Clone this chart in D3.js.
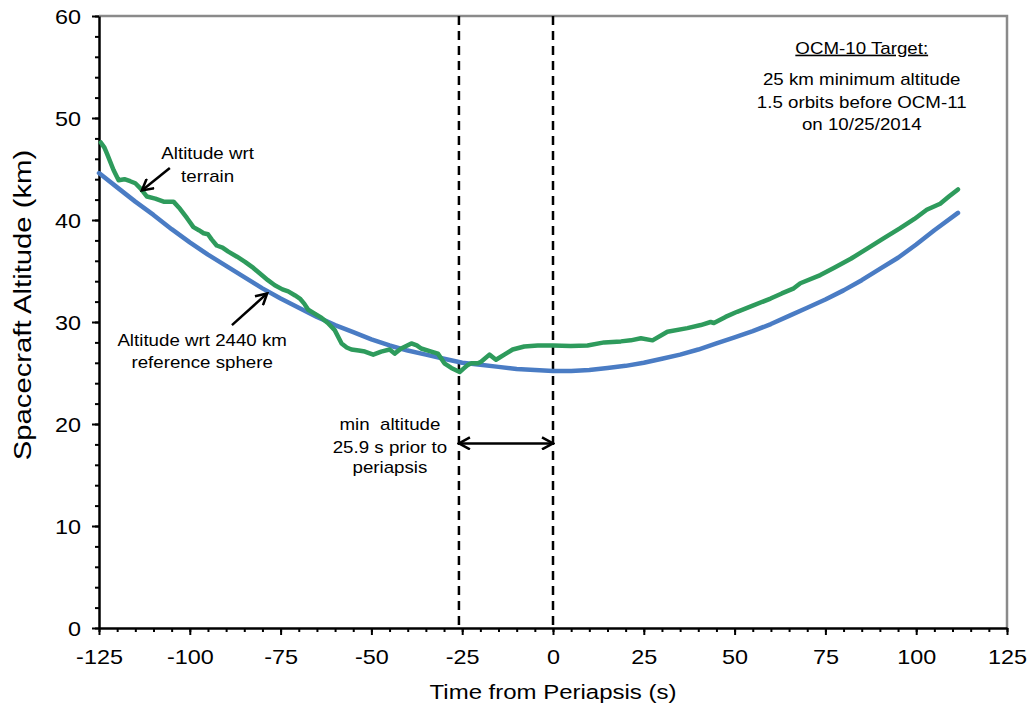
<!DOCTYPE html>
<html>
<head>
<meta charset="utf-8">
<script src="https://cdn.jsdelivr.net/npm/d3@7"></script>
<style>
  body { margin: 0; background: #fff; }
  text { font-family: "Liberation Sans", Arial, sans-serif; fill: #000; }
</style>
</head>
<body>
<div id="chart"></div>
<script>
// Reference sphere altitude (km) vs time from periapsis (s)
const blueTime = [-125, -120, -115, -110, -105, -100, -95, -90, -85, -80, -75, -70, -65, -60, -55, -50, -45, -40, -35, -30, -25, -20, -15, -10, -5, 0, 5, 10, 15, 20, 25, 30, 35, 40, 45, 50, 55, 60, 65, 70, 75, 80, 85, 90, 95, 100, 105, 111.5];
const blueAlt  = [44.6, 43.2, 41.8, 40.5, 39.1, 37.8, 36.6, 35.5, 34.4, 33.3, 32.3, 31.4, 30.5, 29.7, 29.0, 28.3, 27.7, 27.2, 26.8, 26.4, 26.0, 25.8, 25.6, 25.4, 25.3, 25.2, 25.2, 25.3, 25.5, 25.7, 26.0, 26.4, 26.8, 27.3, 27.9, 28.5, 29.1, 29.8, 30.6, 31.4, 32.2, 33.1, 34.1, 35.2, 36.3, 37.6, 39.0, 40.7];

// Terrain altitude (km)
const greenTime = [-124.5, -123.5, -122.8, -121, -119.6, -118, -116.4, -115, -113.6, -111.8, -109.5, -107.2, -104.5, -102.7, -100.8, -99, -97.5, -96.2, -95, -94, -92.6, -91, -89.4, -87, -84.8, -82.5, -80.2, -78.5, -76.6, -74.5, -72.9, -71, -69.7, -68.5, -67.4, -65.5, -63.7, -62, -60.1, -58.2, -56.8, -55.5, -53.5, -51.8, -49.5, -47.3, -45, -43.6, -41.8, -39, -37.5, -36.3, -33.5, -31.7, -29.9, -28, -25.7, -24.4, -23.4, -22.5, -20.7, -19.8, -17.5, -15.7, -13.4, -11.1, -7.9, -4.2, 0, 4.9, 9.5, 14.1, 18.7, 21.4, 24.2, 27.4, 31.5, 37, 40.7, 43.4, 44.3, 47.5, 50.7, 55, 59.9, 63, 66.3, 68.1, 73.6, 77.3, 82, 86.5, 91, 95.6, 99.5, 102.9, 106.6, 109, 111.5];
const greenAlt  = [47.6, 47.1, 46.5, 44.9, 43.9, 44.0, 43.8, 43.6, 43.1, 42.3, 42.1, 41.8, 41.8, 41.1, 40.2, 39.3, 39.0, 38.7, 38.6, 38.1, 37.5, 37.3, 36.9, 36.4, 35.9, 35.3, 34.6, 34.1, 33.6, 33.2, 33.0, 32.6, 32.3, 31.8, 31.2, 30.8, 30.4, 29.9, 29.2, 27.9, 27.5, 27.3, 27.2, 27.1, 26.8, 27.1, 27.3, 26.9, 27.4, 27.9, 27.7, 27.4, 27.1, 26.9, 25.95, 25.5, 25.1, 25.5, 25.8, 25.95, 25.95, 26.1, 26.8, 26.3, 26.8, 27.3, 27.6, 27.7, 27.7, 27.65, 27.7, 28.0, 28.1, 28.2, 28.4, 28.2, 29.05, 29.4, 29.7, 30.0, 29.9, 30.5, 31.0, 31.6, 32.3, 32.8, 33.3, 33.8, 34.6, 35.3, 36.2, 37.2, 38.2, 39.2, 40.1, 41.0, 41.6, 42.3, 43.0];

const xTicks = [-125, -100, -75, -50, -25, 0, 25, 50, 75, 100, 125];
const yTicks = [0, 10, 20, 30, 40, 50, 60];
const markerTimes = [-25.9, 0];

const SX = 1.17; // the source picture is stretched horizontally
const margin = {top: 16, right: 24, bottom: 85, left: 99},
      width = 1031 - margin.left - margin.right,
      height = 713 - margin.top - margin.bottom;

const svg = d3.select("#chart").append("svg")
    .attr("width", 1031)
    .attr("height", 713);

const g = svg.append("g")
    .attr("transform", `translate(${margin.left},${margin.top})`);

const x = d3.scaleLinear().domain([-125, 125]).range([0, width]);
const y = d3.scaleLinear().domain([0, 60]).range([height, 0]);

// gray frame on top and right
g.append("path")
    .attr("d", `M0,0H${width}V${height}`)
    .attr("fill", "none")
    .attr("stroke", "#8a8a8a")
    .attr("stroke-width", 2.5);

// minor ticks
g.append("g")
    .attr("transform", `translate(0,${height})`)
    .call(d3.axisBottom(x).tickValues(d3.range(-125, 126, 5)).tickSize(4).tickSizeOuter(0).tickFormat(""))
    .call(a => a.select(".domain").remove())
    .call(a => a.selectAll("line").attr("stroke-width", 2));
g.append("g")
    .call(d3.axisLeft(y).tickValues(d3.range(0, 61, 2)).tickSize(4).tickSizeOuter(0).tickFormat(""))
    .call(a => a.select(".domain").remove())
    .call(a => a.selectAll("line").attr("stroke-width", 2));

// major axes (plain hyphen for negatives, as in the source)
g.append("g")
    .attr("transform", `translate(0,${height})`)
    .call(d3.axisBottom(x).tickValues(xTicks).tickSize(7).tickSizeOuter(0).tickFormat(d => String(d)))
    .call(a => a.select(".domain").attr("stroke-width", 2.5))
    .call(a => a.selectAll("line").attr("stroke-width", 2))
    .call(a => a.selectAll("text")
        .attr("y", 0).attr("dy", null)
        .attr("transform", `translate(0,36) scale(${SX},1)`)
        .style("font-size", "20px"));

g.append("g")
    .call(d3.axisLeft(y).tickValues(yTicks).tickSize(7).tickSizeOuter(0).tickFormat(d => String(d)))
    .call(a => a.select(".domain").attr("stroke-width", 2.5))
    .call(a => a.selectAll("line").attr("stroke-width", 2))
    .call(a => a.selectAll("text")
        .attr("x", 0).attr("dy", "0.35em")
        .attr("transform", `translate(-18,0) scale(${SX},1)`)
        .style("font-size", "20px"));

// axis titles
svg.append("text")
    .attr("transform", `translate(${margin.left + x(0)},699) scale(${SX},1)`)
    .attr("text-anchor", "middle")
    .style("font-size", "20.5px")
    .text("Time from Periapsis (s)");

svg.append("text")
    .attr("transform", `translate(31,305) rotate(-90) scale(1.3,1.05)`)
    .attr("text-anchor", "middle")
    .style("font-size", "22.5px")
    .text("Spacecraft Altitude (km)");

// dashed marker lines
g.selectAll(".marker")
    .data(markerTimes)
  .enter().append("line")
    .attr("x1", d => x(d)).attr("x2", d => x(d))
    .attr("y1", 0).attr("y2", height)
    .attr("stroke", "#000")
    .attr("stroke-width", 2.5)
    .attr("stroke-dasharray", "9,6");

// series
const line = d3.line().x(d => x(d[0])).y(d => y(d[1]));
g.append("path")
    .datum(blueTime.map((t, i) => [t, blueAlt[i]]))
    .attr("d", line)
    .attr("fill", "none")
    .attr("stroke", "#4a7cc4")
    .attr("stroke-width", 4.5)
    .attr("stroke-linejoin", "round")
    .attr("stroke-linecap", "round");
g.append("path")
    .datum(greenTime.map((t, i) => [t, greenAlt[i]]))
    .attr("d", line)
    .attr("fill", "none")
    .attr("stroke", "#2e9b5c")
    .attr("stroke-width", 4.5)
    .attr("stroke-linejoin", "round")
    .attr("stroke-linecap", "round");

// arrow marker (open chevron)
const defs = svg.append("defs");
defs.append("marker")
    .attr("id", "head")
    .attr("viewBox", "0 0 14 14")
    .attr("refX", 12).attr("refY", 7)
    .attr("markerWidth", 14).attr("markerHeight", 14)
    .attr("markerUnits", "userSpaceOnUse")
    .attr("orient", "auto-start-reverse")
  .append("path")
    .attr("d", "M1,1L12,7L1,13")
    .attr("fill", "none")
    .attr("stroke", "#000")
    .attr("stroke-width", 2.5);

const arrows = [
    {from: [-105.5, 45.1], to: [-113.2, 42.9], both: false},
    {from: [-88.4, 29.7], to: [-78.7, 32.8], both: false},
    {from: [-25.9, 18.1], to: [0, 18.1], both: true}
];
g.selectAll(".arrow")
    .data(arrows)
  .enter().append("line")
    .attr("x1", d => x(d.from[0])).attr("y1", d => y(d.from[1]))
    .attr("x2", d => x(d.to[0])).attr("y2", d => y(d.to[1]))
    .attr("stroke", "#000")
    .attr("stroke-width", 2.5)
    .attr("marker-end", "url(#head)")
    .attr("marker-start", d => d.both ? "url(#head)" : null);

// annotation text
const notes = [
    {t: -95.1, alt: 45.95, text: "Altitude wrt"},
    {t: -95.1, alt: 43.75, text: "terrain"},
    {t: -96.6, alt: 27.6, text: "Altitude wrt 2440 km"},
    {t: -96.6, alt: 25.5, text: "reference sphere"},
    {t: -44.9, alt: 19.4, text: "min\u00a0 altitude"},
    {t: -44.9, alt: 17.2, text: "25.9 s prior to"},
    {t: -44.9, alt: 15.2, text: "periapsis"},
    {t: 85, alt: 56.3, text: "OCM-10 Target:", underline: true},
    {t: 85, alt: 53.2, text: "25 km minimum altitude"},
    {t: 85, alt: 50.95, text: "1.5 orbits before OCM-11"},
    {t: 85, alt: 48.8, text: "on 10/25/2014"}
];
g.selectAll(".note")
    .data(notes)
  .enter().append("text")
    .attr("transform", d => `translate(${x(d.t)},${y(d.alt)}) scale(${SX},1)`)
    .attr("text-anchor", "middle")
    .style("font-size", "16px")
    .style("text-decoration", d => d.underline ? "underline" : null)
    .text(d => d.text);
</script>
</body>
</html>
